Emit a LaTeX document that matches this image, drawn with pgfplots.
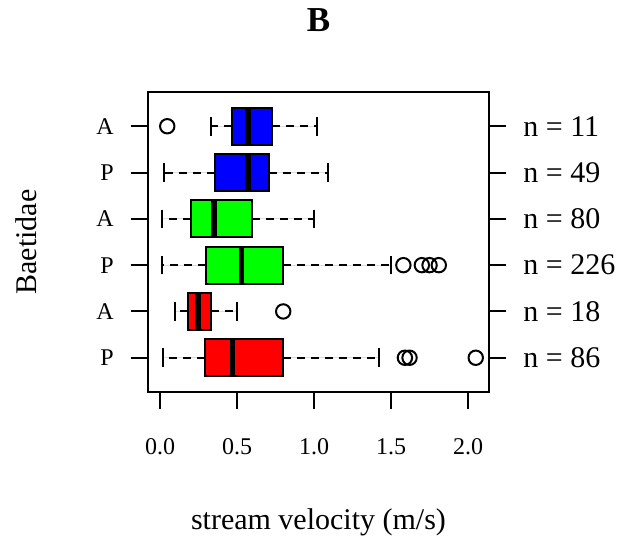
\documentclass[border=0pt]{standalone}
\usepackage{pgfplots}
\pgfplotsset{compat=1.18}
\usepgfplotslibrary{statistics}
\usepackage{fontspec}
\setmainfont{Liberation Serif}
\pgfplotsset{
  rbox/.style={
    boxplot/draw direction=x,
    boxplot/box extend=0.8,
    boxplot/whisker extend=0.4,
    draw=black, line width=1pt, fill=#1,
    boxplot/every median/.style={line width=2.8pt},
    boxplot/draw/lower whisker/.code={
      \draw[black, line width=1pt, dash pattern=on 4pt off 3pt]
        (boxplot box cs:\pgfplotsboxplotvalue{lower quartile},0.5) -- (boxplot box cs:\pgfplotsboxplotvalue{lower whisker},0.5);
      \draw[black, line width=1pt, solid]
        (boxplot whisker cs:\pgfplotsboxplotvalue{lower whisker},0) -- (boxplot whisker cs:\pgfplotsboxplotvalue{lower whisker},1);
    },
    boxplot/draw/upper whisker/.code={
      \draw[black, line width=1pt, dash pattern=on 4pt off 3pt]
        (boxplot box cs:\pgfplotsboxplotvalue{upper quartile},0.5) -- (boxplot box cs:\pgfplotsboxplotvalue{upper whisker},0.5);
      \draw[black, line width=1pt, solid]
        (boxplot whisker cs:\pgfplotsboxplotvalue{upper whisker},0) -- (boxplot whisker cs:\pgfplotsboxplotvalue{upper whisker},1);
    },
  },
  common/.style={
    at={(0,0)}, anchor=south west,
    scale only axis, width=170.5pt, height=150pt,
    xmin=-0.078, xmax=2.136, ymin=0.26, ymax=6.74,
  },
}
\begin{document}
\begin{tikzpicture}
\path[use as bounding box] (-74pt,-73.5pt) rectangle (242pt,196pt);
\begin{axis}[
  common,
  axis line style={line width=1pt},
  xtick={0,0.5,1,1.5,2}, xticklabels={0.0,0.5,1.0,1.5,2.0},
  ytick={1,2,3,4,5,6}, yticklabels={P,A,P,A,P,A},
  xtick pos=left, ytick pos=both, yticklabel pos=left,
  tick align=outside, major tick length=8.5pt,
  tick style={line width=1pt, black},
  xticklabel style={font=\fontsize{12}{14}\selectfont, anchor=base, inner sep=0pt, yshift=-23pt},
  yticklabel style={font=\fontsize{12}{14}\selectfont, anchor=east, inner sep=0pt, xshift=-8.5pt},
  title={\textbf{B}},
  title style={font=\fontsize{17.5}{20}\selectfont, at={(axis description cs:0.5,1)}, anchor=base, yshift=24pt},
  xlabel={stream velocity (m/s)},
  xlabel style={font=\fontsize{15}{18}\selectfont, at={(axis description cs:0.5,0)}, anchor=base, yshift=-69pt},
  ylabel={Baetidae},
  ylabel style={font=\fontsize{15}{18}\selectfont, at={(axis description cs:0,0.5)}, anchor=base, yshift=55.5pt},
]
% y=6: A blue
\addplot[rbox=blue, boxplot prepared={draw position=6, lower whisker=0.33, lower quartile=0.465, median=0.57, upper quartile=0.73, upper whisker=1.02}] coordinates {};
% y=5: P blue
\addplot[rbox=blue, boxplot prepared={draw position=5, lower whisker=0.028, lower quartile=0.36, median=0.57, upper quartile=0.71, upper whisker=1.09}] coordinates {};
% y=4: A green
\addplot[rbox=green, boxplot prepared={draw position=4, lower whisker=0.011, lower quartile=0.20, median=0.35, upper quartile=0.60, upper whisker=1.00}] coordinates {};
% y=3: P green
\addplot[rbox=green, boxplot prepared={draw position=3, lower whisker=0.011, lower quartile=0.30, median=0.53, upper quartile=0.80, upper whisker=1.50}] coordinates {};
% y=2: A red
\addplot[rbox=red, boxplot prepared={draw position=2, lower whisker=0.10, lower quartile=0.18, median=0.245, upper quartile=0.33, upper whisker=0.50}] coordinates {};
% y=1: P red
\addplot[rbox=red, boxplot prepared={draw position=1, lower whisker=0.017, lower quartile=0.29, median=0.47, upper quartile=0.80, upper whisker=1.42}] coordinates {};
% outliers
\addplot[only marks, mark=o, mark size=3.6pt, mark options={line width=1pt, black}] coordinates {
  (0.047,6) (1.58,3) (1.70,3) (1.75,3) (1.81,3) (0.80,2) (1.59,1) (1.62,1) (2.05,1)
};
\end{axis}
\begin{axis}[
  common,
  hide x axis,
  axis y line*=right,
  y axis line style={draw=none},
  ytick={1,2,3,4,5,6},
  yticklabels={n = 86, n = 18, n = 226, n = 80, n = 49, n = 11},
  major tick length=0pt,
  yticklabel style={font=\fontsize{15}{18}\selectfont, anchor=west, inner sep=0pt, xshift=17pt},
]
\end{axis}
\end{tikzpicture}
\end{document}
